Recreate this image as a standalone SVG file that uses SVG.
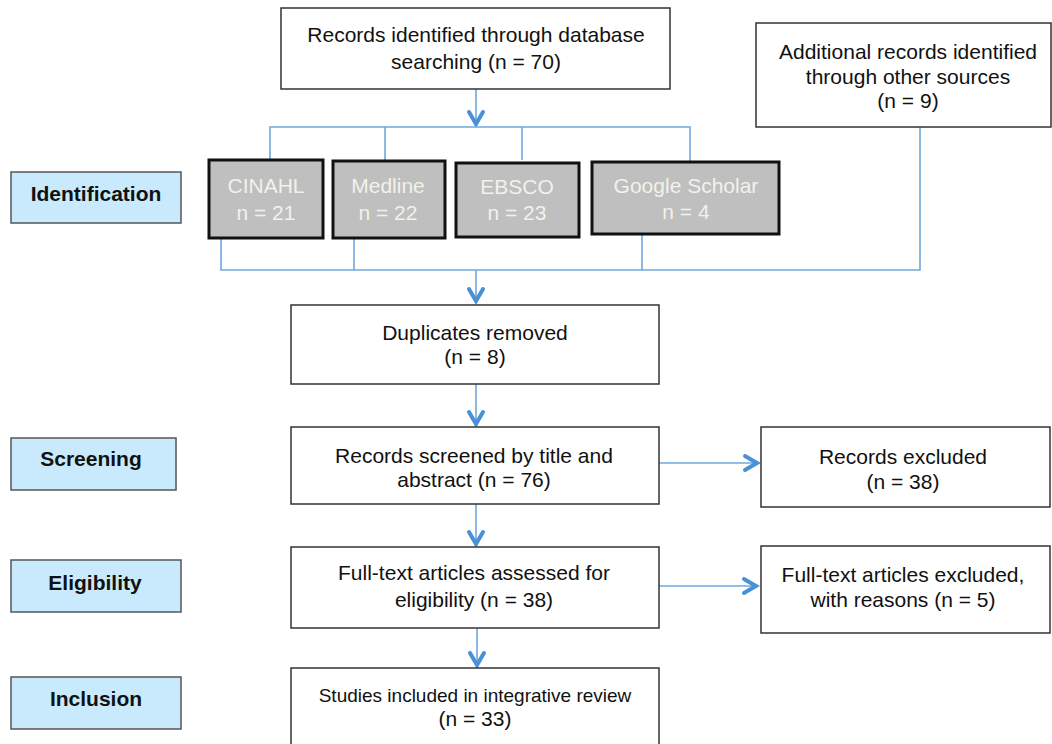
<svg xmlns="http://www.w3.org/2000/svg" width="1052" height="744" viewBox="0 0 1052 744">
<style>
.box{fill:#fff;stroke:#333;stroke-width:1.5}
.db{fill:#bfbfbf;stroke:#111;stroke-width:3}
.lab{fill:#c8eafc;stroke:#555;stroke-width:1.5}
.t{font-family:"Liberation Sans",Arial,sans-serif;font-size:21px;fill:#111;text-anchor:middle}
.ts{font-size:19px}
.tw{fill:#f2f2ea}
.tb{font-weight:bold}
.c{fill:none;stroke:#6fa8dc;stroke-width:1.6}
</style>
<defs>
<marker id="ah" markerUnits="userSpaceOnUse" viewBox="-16 -10 20 20" markerWidth="20" markerHeight="20" refX="0" refY="0" orient="auto">
<path d="M-13,-7 L-1,0 L-13,7" fill="none" stroke="#4a90d6" stroke-width="4" stroke-linecap="round"/>
</marker>
</defs>
<rect width="1052" height="744" fill="#fff"/>
<g id="connectors">
<line class="c" x1="476" y1="89" x2="476" y2="125" marker-end="url(#ah)"/>
<polyline class="c" points="270,160 270,127 690,127 690,162"/>
<line class="c" x1="385" y1="127" x2="385" y2="161"/>
<line class="c" x1="522" y1="127" x2="522" y2="160"/>
<polyline class="c" points="221,238 221,270 920,270 920,127"/>
<line class="c" x1="354" y1="238" x2="354" y2="270"/>
<line class="c" x1="642" y1="234" x2="642" y2="270"/>
<line class="c" x1="476" y1="270" x2="476" y2="302" marker-end="url(#ah)"/>
<line class="c" x1="476" y1="384" x2="476" y2="425" marker-end="url(#ah)"/>
<line class="c" x1="659" y1="463" x2="758" y2="463" marker-end="url(#ah)"/>
<line class="c" x1="476" y1="504" x2="476" y2="545" marker-end="url(#ah)"/>
<line class="c" x1="659" y1="586" x2="757" y2="586" marker-end="url(#ah)"/>
<line class="c" x1="477" y1="628" x2="477" y2="666" marker-end="url(#ah)"/>
</g>
<g id="n-database">
<rect class="box" x="281" y="8" width="389" height="81"/>
<text class="t" x="476" y="42">Records identified through database</text>
<text class="t" x="476" y="69">searching (n = 70)</text>
</g>
<g id="n-additional">
<rect class="box" x="756" y="23" width="295" height="104"/>
<text class="t" x="908" y="59">Additional records identified</text>
<text class="t" x="908" y="84">through other sources</text>
<text class="t" x="908" y="108">(n = 9)</text>
</g>
<g id="n-cinahl">
<rect class="db" x="209" y="160" width="114" height="78"/>
<text class="t tw" x="266" y="193">CINAHL</text>
<text class="t tw" x="266" y="220">n = 21</text>
</g>
<g id="n-medline">
<rect class="db" x="333" y="161" width="112" height="77"/>
<text class="t tw" x="388" y="193">Medline</text>
<text class="t tw" x="388" y="220">n = 22</text>
</g>
<g id="n-ebsco">
<rect class="db" x="456" y="163" width="123" height="74"/>
<text class="t tw" x="517" y="194">EBSCO</text>
<text class="t tw" x="517" y="220">n = 23</text>
</g>
<g id="n-google">
<rect class="db" x="592" y="162" width="187" height="72"/>
<text class="t tw" x="686" y="193">Google Scholar</text>
<text class="t tw" x="686" y="219">n = 4</text>
</g>
<g id="n-duplicates">
<rect class="box" x="291" y="305" width="368" height="79"/>
<text class="t" x="475" y="340">Duplicates removed</text>
<text class="t" x="475" y="364">(n = 8)</text>
</g>
<g id="n-screened">
<rect class="box" x="291" y="427" width="368" height="77"/>
<text class="t" x="474" y="463">Records screened by title and</text>
<text class="t" x="474" y="487">abstract (n = 76)</text>
</g>
<g id="n-excluded">
<rect class="box" x="761" y="427" width="289" height="80"/>
<text class="t" x="903" y="464">Records excluded</text>
<text class="t" x="903" y="489">(n = 38)</text>
</g>
<g id="n-fulltext">
<rect class="box" x="291" y="547" width="368" height="81"/>
<text class="t" x="474" y="580">Full-text articles assessed for</text>
<text class="t" x="474" y="607">eligibility (n = 38)</text>
</g>
<g id="n-fulltext-excluded">
<rect class="box" x="761" y="546" width="289" height="87"/>
<text class="t" x="903" y="582">Full-text articles excluded,</text>
<text class="t" x="903" y="607">with reasons (n = 5)</text>
</g>
<g id="n-included">
<rect class="box" x="291" y="668" width="368" height="90"/>
<text class="t ts" x="475" y="702">Studies included in integrative review</text>
<text class="t" x="475" y="726">(n = 33)</text>
</g>
<g id="l-identification">
<rect class="lab" x="11" y="172" width="170" height="51"/>
<text class="t tb" x="96" y="201">Identification</text>
</g>
<g id="l-screening">
<rect class="lab" x="11" y="438" width="165" height="52"/>
<text class="t tb" x="91" y="466">Screening</text>
</g>
<g id="l-eligibility">
<rect class="lab" x="11" y="560" width="170" height="52"/>
<text class="t tb" x="95" y="590">Eligibility</text>
</g>
<g id="l-inclusion">
<rect class="lab" x="11" y="677" width="170" height="52"/>
<text class="t tb" x="96" y="706">Inclusion</text>
</g>
</svg>
